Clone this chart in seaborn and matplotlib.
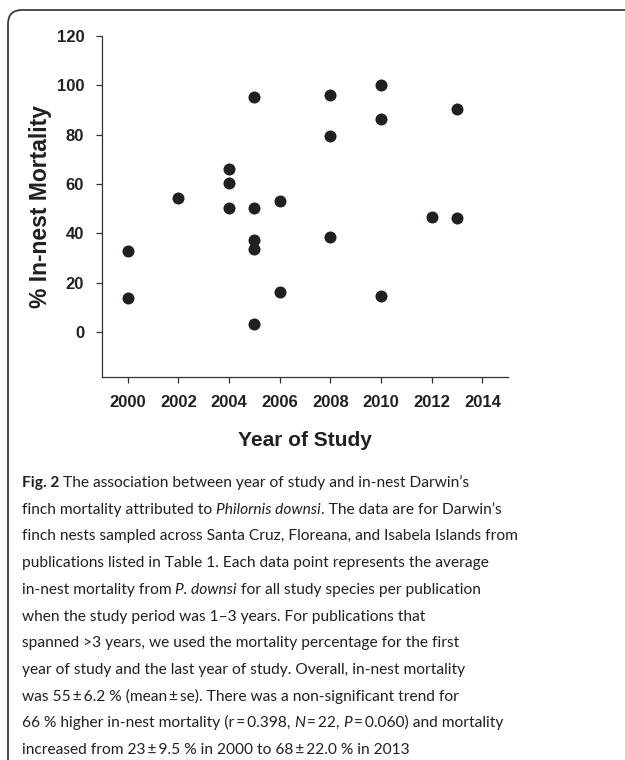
import matplotlib
matplotlib.use("Agg")
import matplotlib.pyplot as plt
import seaborn as sns
import pandas as pd
from matplotlib.patches import FancyBboxPatch
from matplotlib.transforms import IdentityTransform

# data
years = [2000, 2000, 2002, 2004, 2004, 2004, 2005, 2005, 2005, 2005, 2005,
         2006, 2006, 2008, 2008, 2008, 2010, 2010, 2010, 2012, 2013, 2013]
mortality = [32.8, 13.6, 54.3, 66.2, 60.3, 50.1, 95.4, 50.1, 37.4, 33.8, 3.4,
             53.1, 16.2, 96.2, 79.3, 38.4, 100.1, 86.2, 14.5, 46.8, 90.3, 46.2]
x_ticks = [2000, 2002, 2004, 2006, 2008, 2010, 2012, 2014]
y_ticks = [0, 20, 40, 60, 80, 100, 120]

caption_lines = [
    [("Fig. 2", "bold"), (" The association between year of study and in-nest Darwin\u2019s", "normal")],
    [("finch mortality attributed to ", "normal"), ("Philornis downsi", "italic"),
     (". The data are for Darwin\u2019s", "normal")],
    [("finch nests sampled across Santa Cruz, Floreana, and Isabela Islands from", "normal")],
    [("publications listed in Table 1. Each data point represents the average", "normal")],
    [("in-nest mortality from ", "normal"), ("P. downsi", "italic"),
     (" for all study species per publication", "normal")],
    [("when the study period was 1\u20133 years. For publications that", "normal")],
    [("spanned >3 years, we used the mortality percentage for the first", "normal")],
    [("year of study and the last year of study. Overall, in-nest mortality", "normal")],
    [("was 55\u2009\u00b1\u20096.2 % (mean\u2009\u00b1\u2009se). There was a non-significant trend for", "normal")],
    [("66 % higher in-nest mortality (r\u2009=\u20090.398, ", "normal"), ("N", "italic"),
     ("\u2009=\u200922, ", "normal"), ("P", "italic"), ("\u2009=\u20090.060) and mortality", "normal")],
    [("increased from 23\u2009\u00b1\u20099.5 % in 2000 to 68\u2009\u00b1\u200922.0 % in 2013", "normal")],
]

W, H = 625, 760
ink = "#231f20"

sns.set_style("ticks")
plt.rcParams["font.family"] = ["Liberation Sans", "DejaVu Sans"]

df = pd.DataFrame({"year": years, "mortality": mortality})

fig = plt.figure(figsize=(W / 100, H / 100), dpi=100)
fig.patch.set_facecolor("white")

# rounded frame around the whole figure
frame = FancyBboxPatch((8, -40), 700, H - 10 + 40,
                       boxstyle="round,pad=0,rounding_size=14",
                       transform=IdentityTransform(), fill=False,
                       edgecolor="#3a3a3a", linewidth=1.3)
fig.add_artist(frame)

ax = fig.add_axes([102.3 / W, 1 - 376.7 / H, (507.7 - 102.3) / W, (376.7 - 36) / H])
sns.scatterplot(data=df, x="year", y="mortality", ax=ax, s=75, color=ink,
                edgecolor=ink, linewidth=0, legend=False, zorder=3)

ax.set_xlim(1999, 2015)
ax.set_ylim(-18.1, 120)
ax.set_xticks(x_ticks)
ax.set_yticks(y_ticks)
ax.set_xticklabels([str(v) for v in x_ticks], fontsize=12, fontweight="bold", color=ink)
ax.set_yticklabels([str(v) for v in y_ticks], fontsize=12, fontweight="bold", color=ink)
ax.tick_params(axis="x", length=4, width=0.9, pad=9, color="#333333")
ax.tick_params(axis="y", length=4, width=0.9, pad=9, color="#333333")
for side in ["top", "right"]:
    ax.spines[side].set_visible(False)
for side in ["left", "bottom"]:
    ax.spines[side].set_linewidth(0.9)
    ax.spines[side].set_color("#333333")

ax.set_xlabel("Year of Study", fontsize=15, fontweight="bold", color=ink)
ax.set_ylabel("% In-nest Mortality", fontsize=16.5, fontweight="bold", color=ink)
ax.xaxis.set_label_coords(0.5, -(440 - 376.7) / (376.7 - 36), transform=ax.transAxes)
ax.yaxis.set_label_coords(-(102.3 - 40) / (507.7 - 102.3), 0.5, transform=ax.transAxes)
ax.xaxis.label.set_va("center")
ax.yaxis.label.set_va("center")

# caption, drawn segment by segment so bold/italic runs sit inline
renderer = fig.canvas.get_renderer()
cap_font = ["Lato", "DejaVu Sans"]


def seg_width(text, size, style):
    kw = dict(fontsize=size, family=cap_font)
    if style == "bold":
        kw["fontweight"] = "bold"
    elif style == "italic":
        kw["fontstyle"] = "italic"
    t1 = fig.text(0, 0, "x" + text + "x", **kw)
    t2 = fig.text(0, 0, "xx", **kw)
    w = t1.get_window_extent(renderer).width - t2.get_window_extent(renderer).width
    t1.remove()
    t2.remove()
    return w


def line_width(segs, size):
    return sum(seg_width(s, size, st) for s, st in segs)


# fit the font size so the longest line fills the text width
target = 494
size = 12 * target / line_width(caption_lines[2], 12)

x0 = 21.7
base0 = 487
step = 26.7
for i, segs in enumerate(caption_lines):
    x = x0
    y = base0 + i * step
    for text, style in segs:
        kw = dict(fontsize=size, family=cap_font, color=ink, va="baseline", ha="left")
        if style == "bold":
            kw["fontweight"] = "bold"
        elif style == "italic":
            kw["fontstyle"] = "italic"
        fig.text(x / W, 1 - y / H, text, **kw)
        x += seg_width(text, size, style)

fig.savefig("out.png", dpi=100, facecolor="white")
